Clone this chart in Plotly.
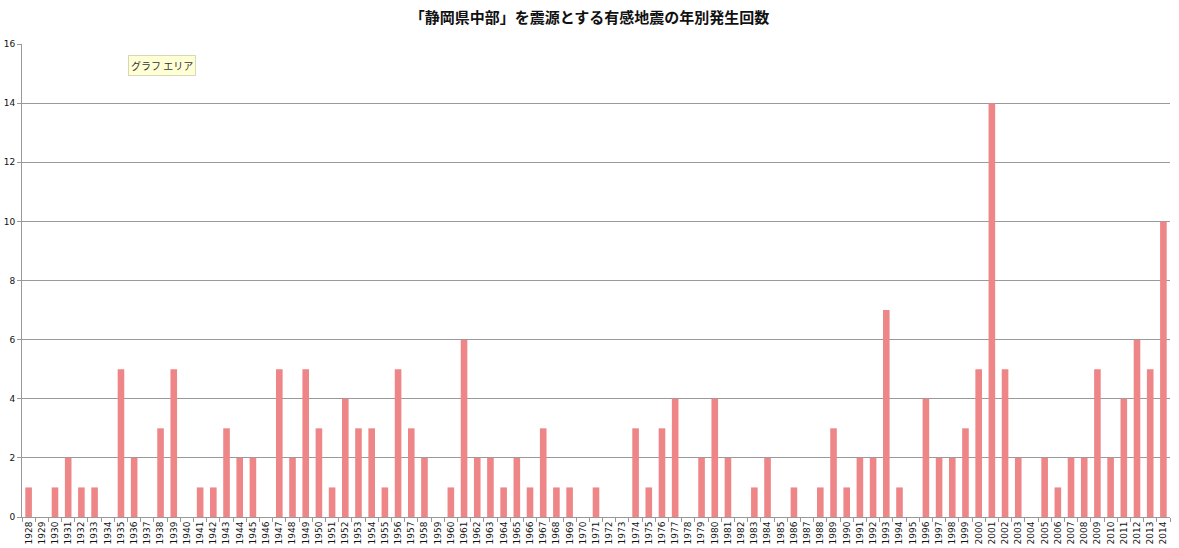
import plotly.graph_objects as go

years = [str(y) for y in range(1928, 2015)]
counts = [1, 0, 1, 2, 1, 1, 0, 5, 2, 0, 3, 5, 0, 1, 1, 3, 2, 2, 0, 5,
          2, 5, 3, 1, 4, 3, 3, 1, 5, 3, 2, 0, 1, 6, 2, 2, 1, 2, 1, 3,
          1, 1, 0, 1, 0, 0, 3, 1, 3, 4, 0, 2, 4, 2, 0, 1, 2, 0, 1, 0,
          1, 3, 1, 2, 2, 7, 1, 0, 4, 2, 2, 3, 5, 14, 5, 2, 0, 2, 1, 2,
          2, 5, 2, 4, 6, 5, 10]
y_ticks = list(range(0, 17, 2))

title_text = "「静岡県中部」を震源とする有感地震の年別発生回数"

fig = go.Figure()
fig.add_trace(go.Bar(
    x=years, y=counts,
    marker=dict(color="#EE8587", line=dict(width=0)),
    hoverinfo="x+y",
))

fig.update_layout(
    width=1179, height=548,
    margin=dict(l=22, r=9, t=44, b=31),
    paper_bgcolor="white", plot_bgcolor="white",
    bargap=0.5,
    showlegend=False,
    title=dict(text="<b>" + title_text + "</b>", x=0.5, xanchor="center",
               y=0.967, yanchor="middle", automargin=False,
               font=dict(family="Noto Sans CJK JP", size=15, color="#111")),
    font=dict(family="DejaVu Sans", size=9, color="#111"),
)
fig.update_xaxes(
    type="category", tickangle=-90, tickson="boundaries",
    ticks="outside", ticklen=4, tickcolor="#999", automargin=False,
    showline=True, linecolor="#999", linewidth=1,
    showgrid=False, tickfont=dict(size=9, family="DejaVu Sans"),
)
fig.update_yaxes(
    range=[0, 16], tickvals=y_ticks, ticks="outside", ticklen=4, tickcolor="#999",
    showline=True, linecolor="#999", linewidth=1, automargin=False,
    showgrid=True, gridcolor="#999", gridwidth=1, zeroline=False,
    tickfont=dict(size=9, family="DejaVu Sans"),
)
fig.add_annotation(
    text="グラフ エリア", xref="paper", yref="paper",
    x=(128 - 22) / (1170 - 22), y=(517 - 55) / (517 - 44),
    xanchor="left", yanchor="top", showarrow=False,
    bgcolor="#FFFFD6", bordercolor="#D8D8B8", borderwidth=1, borderpad=2,
    font=dict(family="Noto Sans CJK JP", size=10, color="#333"),
)
fig.write_html("out.html", config={"displayModeBar": False},
               post_script="document.body.style.margin='0';document.body.style.overflow='hidden';")
